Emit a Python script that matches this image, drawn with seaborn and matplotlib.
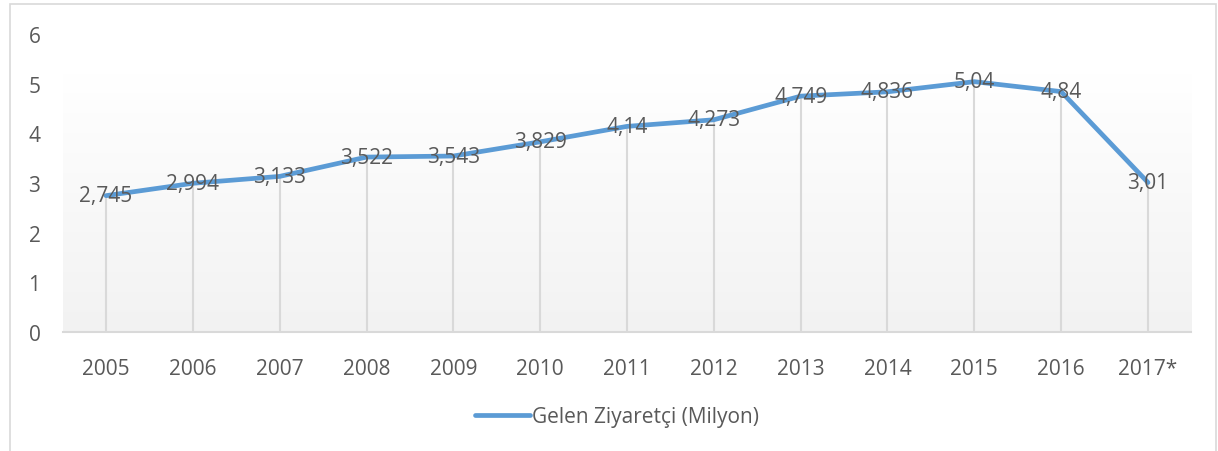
import numpy as np
import pandas as pd
import matplotlib
matplotlib.use("Agg")
import matplotlib.pyplot as plt
import seaborn as sns

years = ["2005", "2006", "2007", "2008", "2009", "2010", "2011", "2012",
         "2013", "2014", "2015", "2016", "2017*"]
visitors = [2.745, 2.994, 3.133, 3.522, 3.543, 3.829, 4.14, 4.273,
            4.749, 4.836, 5.04, 4.84, 3.01]
labels = ["2,745", "2,994", "3,133", "3,522", "3,543", "3,829", "4,14", "4,273",
          "4,749", "4,836", "5,04", "4,84", "3,01"]
series_name = "Gelen Ziyaretçi (Milyon)"
yticks = [0, 1, 2, 3, 4, 5, 6]

sns.set_theme(style="white")
plt.rcParams["font.family"] = ["Open Sans", "DejaVu Sans"]

text_color = "#595959"
line_color = "#5B9BD5"
fs = 15

df = pd.DataFrame({"year": years, "value": visitors, "x": np.arange(len(years))})

fig = plt.figure(figsize=(12.18, 4.52), dpi=100)
ax = fig.add_axes([62.6 / 1218, 1 - 333 / 452, (1191.4 - 62.6) / 1218, (333 - 35) / 452])

# gradient background
grad = np.linspace(0, 1, 256).reshape(-1, 1)
cmap = matplotlib.colors.LinearSegmentedColormap.from_list("g", ["#F2F2F2", "#FFFFFF"])
ax.imshow(grad, aspect="auto", cmap=cmap, origin="lower",
          extent=[-0.5, len(years) - 0.5, 0, 5.2], zorder=0)

# drop lines
ax.vlines(df["x"], 0, df["value"], color="#D9D9D9", lw=1.5, zorder=1)

sns.lineplot(data=df, x="x", y="value", ax=ax, color=line_color, lw=3.4,
             label=series_name, zorder=3, solid_capstyle="round")

for xi, v, lab in zip(df["x"], visitors, labels):
    ax.text(xi, v, lab, ha="center", va="center", fontsize=fs, color=text_color, zorder=4)

ax.set_xlim(-0.5, len(years) - 0.5)
ax.set_ylim(0, 6)
ax.set_yticks(yticks)
ax.set_yticklabels([str(t) for t in yticks])
ax.set_xticks(df["x"])
ax.set_xticklabels(years)
ax.set_xlabel("")
ax.set_ylabel("")
ax.tick_params(axis="both", length=0, labelsize=fs, colors=text_color)
ax.tick_params(axis="x", pad=19)
ax.tick_params(axis="y", pad=16)
for s in ["top", "right", "left"]:
    ax.spines[s].set_visible(False)
ax.spines["bottom"].set_color("#D9D9D9")
ax.spines["bottom"].set_linewidth(1.5)
ax.set_facecolor("none")

leg = ax.legend(loc="center", bbox_to_anchor=(617 / 1218, 1 - 418 / 452),
                bbox_transform=fig.transFigure, frameon=False, fontsize=fs,
                handlelength=2.6, handletextpad=0.1)
for t in leg.get_texts():
    t.set_color(text_color)

# outer chart border
fig.patches.append(matplotlib.patches.Rectangle(
    (10 / 1218, -0.01), 1 - 12 / 1218, 1 - 5 / 452 + 0.01, transform=fig.transFigure,
    fill=False, edgecolor="#D9D9D9", lw=1.2))

fig.savefig("out.png", dpi=100)
